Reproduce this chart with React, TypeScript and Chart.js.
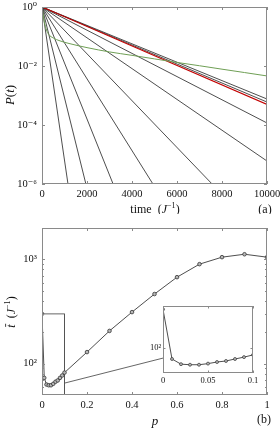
import React, { useEffect, useRef } from 'react';
import { Chart, registerables } from 'chart.js';
Chart.register(...registerables);

// ---------- Panel (a): survival probability P(t) ----------
const timeTicks = [0, 2000, 4000, 6000, 8000, 10000];
const probTicks = [1e-6, 1e-4, 1e-2, 1];
// black lines that reach P = 1e-6 inside the window (time at which they reach it)
const bottomEndTimes = [1155, 1950, 3160, 4930, 7560];
// black lines that leave through t = 10000 (P value there)
const rightEndProbs = [6.0e-6, 1.17e-4, 6.0e-4, 7.6e-4];
const redEndProb = 5.0e-4;
const greenTimes = [0, 50, 100, 200, 300, 500, 800, 1200, 2000, 3000, 4000, 5000, 6000, 7000, 8000, 9000, 10000];
const greenProbs = [1, 0.56, 0.32, 0.166, 0.117, 0.089, 0.071, 0.058, 0.042, 0.03, 0.023, 0.0174, 0.0132, 0.0102, 0.0078, 0.006, 0.0046];

// ---------- Panel (b): mean time vs p ----------
const pValues = [0, 0.01, 0.02, 0.03, 0.04, 0.05, 0.06, 0.07, 0.08, 0.09, 0.1, 0.2, 0.3, 0.4, 0.5, 0.6, 0.7, 0.8, 0.9, 1.0];
const meanTimes = [300, 73, 63, 62, 62, 64, 67, 69, 73, 77, 82, 129, 206, 312, 465, 675, 900, 1050, 1120, 1050];
const pTicks = [0, 0.2, 0.4, 0.6, 0.8, 1];
const meanTimeTicks = [100, 1000];
const meanTimeMinorTicks = [60, 70, 80, 90, 200, 300, 400, 500, 600, 700, 800, 900];
const zoomBoxP = [0, 0, 0.1, 0.1];
const zoomBoxT = [50, 300, 300, 50];
const connectorP = [0.1, 0.538];
const connectorT = [65, 113];
const insetPTicks = [0, 0.05, 0.1];
const insetTimeTicks = [100];

const SERIF = '"Liberation Serif", "DejaVu Serif", serif';
const AXIS = '#8a8a8a';
const LINE = '#3a3a3a';

const SUP: Record<string, string> = { '-': '⁻', '0': '⁰', '1': '¹', '2': '²', '3': '³', '4': '⁴', '5': '⁵', '6': '⁶', '7': '⁷', '8': '⁸', '9': '⁹' };
const pow10Label = (v: number) => '10' + String(Math.round(Math.log10(v))).split('').map(c => SUP[c]).join('');

type Seg = { t: string; it?: boolean; sup?: boolean; bar?: boolean };
type TextItem = { segs: Seg[]; x: number; y: number; size: number; rot?: boolean };

function drawRich(ctx: CanvasRenderingContext2D, item: TextItem) {
  const { segs, x: cx, y: cy, size, rot } = item;
  const fontOf = (s: Seg) => `${s.it ? 'italic ' : ''}${s.sup ? size * 0.68 : size}px ${SERIF}`;
  ctx.save();
  ctx.fillStyle = '#111';
  ctx.strokeStyle = '#111';
  let total = 0;
  const widths = segs.map(s => { ctx.font = fontOf(s); const w = ctx.measureText(s.t).width; total += w; return w; });
  ctx.translate(cx, cy);
  if (rot) ctx.rotate(-Math.PI / 2);
  ctx.textAlign = 'left';
  ctx.textBaseline = 'alphabetic';
  const base = size * 0.35;
  let x = -total / 2;
  segs.forEach((s, i) => {
    ctx.font = fontOf(s);
    ctx.fillText(s.t, x, s.sup ? base - size * 0.42 : base);
    if (s.bar) {
      ctx.beginPath();
      ctx.lineWidth = 0.8;
      ctx.moveTo(x + 0.8, base - size * 0.8);
      ctx.lineTo(x + widths[i] + 0.6, base - size * 0.8);
      ctx.stroke();
    }
    x += widths[i];
  });
  ctx.restore();
}

const framePlugin = {
  id: 'frameTicks',
  beforeDatasetsDraw(chart: any, _a: any, opts: any) {
    if (!opts.fill) return;
    const { ctx, chartArea: a } = chart;
    ctx.save();
    ctx.fillStyle = opts.fill;
    ctx.fillRect(a.left, a.top, a.right - a.left, a.bottom - a.top);
    ctx.restore();
  },
  afterDraw(chart: any, _a: any, opts: any) {
    const { ctx, chartArea: a, scales } = chart;
    const xs = scales.x, ys = scales.y;
    ctx.save();
    ctx.strokeStyle = AXIS;
    ctx.lineWidth = 1;
    ctx.strokeRect(Math.round(a.left) + 0.5, Math.round(a.top) + 0.5, Math.round(a.right - a.left) - 1, Math.round(a.bottom - a.top) - 1);
    const L = opts.len ?? 3;
    const ml = opts.minorLen ?? 2;
    ctx.beginPath();
    (opts.xMajor || []).forEach((v: number) => {
      const px = Math.round(xs.getPixelForValue(v)) + 0.5;
      ctx.moveTo(px, a.bottom); ctx.lineTo(px, a.bottom - L);
      ctx.moveTo(px, a.top); ctx.lineTo(px, a.top + L);
    });
    (opts.yMajor || []).forEach((v: number) => {
      const py = Math.round(ys.getPixelForValue(v)) + 0.5;
      ctx.moveTo(a.left, py); ctx.lineTo(a.left + L, py);
      ctx.moveTo(a.right, py); ctx.lineTo(a.right - L, py);
    });
    (opts.yMinor || []).forEach((v: number) => {
      const py = Math.round(ys.getPixelForValue(v)) + 0.5;
      ctx.moveTo(a.left, py); ctx.lineTo(a.left + ml, py);
      ctx.moveTo(a.right, py); ctx.lineTo(a.right - ml, py);
    });
    ctx.stroke();
    ctx.restore();
    (opts.texts || []).forEach((t: TextItem) => drawRich(ctx, t));
  },
};

function axisX(min: number, max: number, ticks: number[], h: number, size: number, pad: number, fmt?: (v: number) => string) {
  return {
    type: 'linear', min, max,
    afterBuildTicks: (s: any) => { s.ticks = ticks.map(v => ({ value: v })); },
    ticks: { font: { family: SERIF, size }, color: '#111', padding: pad, maxRotation: 0, autoSkip: false, callback: (v: any) => (fmt ? fmt(Number(v)) : String(v)) },
    grid: { display: false, drawTicks: false },
    border: { display: false },
    afterFit: (s: any) => { s.height = h; s.paddingLeft = 0; s.paddingRight = 0; },
  };
}
function axisYLog(min: number, max: number, ticks: number[], w: number, size: number, pad: number) {
  return {
    type: 'logarithmic', min, max,
    afterBuildTicks: (s: any) => { s.ticks = ticks.map(v => ({ value: v })); },
    ticks: { font: { family: SERIF, size }, color: '#111', padding: pad, autoSkip: false, callback: (v: any) => pow10Label(Number(v)) },
    grid: { display: false, drawTicks: false },
    border: { display: false },
    afterFit: (s: any) => { s.width = w; s.paddingTop = 0; s.paddingBottom = 0; },
  };
}

const lineDs = (data: { x: number; y: number }[], color: string, width = 1, extra: any = {}) => ({
  data, borderColor: color, borderWidth: width, pointRadius: 0, fill: false, tension: 0, ...extra,
});

export default function App() {
  const refA = useRef<HTMLCanvasElement>(null);
  const refB = useRef<HTMLCanvasElement>(null);
  const refI = useRef<HTMLCanvasElement>(null);

  useEffect(() => {
    const base: any = { animation: false, responsive: false, maintainAspectRatio: false, events: [] };

    const dsA: any[] = [];
    dsA.push(lineDs(greenTimes.map((t, i) => ({ x: t, y: greenProbs[i] })), '#6f9f55', 1, { cubicInterpolationMode: 'monotone' }));
    dsA.push(lineDs([{ x: 0, y: 1 }, { x: 10000, y: redEndProb }], '#c40000', 1.1));
    rightEndProbs.forEach(p => dsA.push(lineDs([{ x: 0, y: 1 }, { x: 10000, y: p }], LINE, 0.9)));
    bottomEndTimes.forEach(t => dsA.push(lineDs([{ x: 0, y: 1 }, { x: t, y: 1e-6 }], LINE, 0.9)));

    const chartA = new Chart(refA.current!, {
      type: 'line',
      data: { datasets: dsA },
      options: {
        ...base,
        layout: { padding: { top: 7, right: 13, left: 0, bottom: 0 } },
        plugins: {
          legend: { display: false }, tooltip: { enabled: false },
          frameTicks: {
            xMajor: timeTicks, yMajor: probTicks,
            texts: [
              { segs: [{ t: 'P', it: true }, { t: '(' }, { t: 't', it: true }, { t: ')' }], x: 9, y: 95, size: 13, rot: true },
              { segs: [{ t: 'time  (' }, { t: 'J', it: true }, { t: '−1', sup: true }, { t: ')' }], x: 155, y: 209, size: 12 },
              { segs: [{ t: '(a)' }], x: 265, y: 209, size: 12 },
            ],
          },
        } as any,
        scales: {
          x: axisX(0, 10000, timeTicks, 30, 10.5, 4),
          y: axisYLog(1e-6, 1, probTicks, 42, 10.5, 5),
        } as any,
      },
      plugins: [framePlugin as any],
    });

    const seriesB = pValues.map((p, i) => ({ x: p, y: meanTimes[i] }));
    const pointStyle = { pointRadius: 1.8, pointBorderWidth: 0.8, pointBorderColor: '#333', pointBackgroundColor: '#b8b8b8' };
    const chartB = new Chart(refB.current!, {
      type: 'line',
      data: {
        datasets: [
          lineDs(seriesB, LINE, 0.9, pointStyle),
          lineDs(zoomBoxP.map((p, i) => ({ x: p, y: zoomBoxT[i] })), '#555', 0.9),
          lineDs(connectorP.map((p, i) => ({ x: p, y: connectorT[i] })), '#555', 0.9),
        ],
      },
      options: {
        ...base,
        layout: { padding: { top: 14, right: 13, left: 0, bottom: 0 } },
        plugins: {
          legend: { display: false }, tooltip: { enabled: false },
          frameTicks: {
            xMajor: pTicks, yMajor: meanTimeTicks, yMinor: meanTimeMinorTicks,
            texts: [
              { segs: [{ t: 't', it: true, bar: true }, { t: '  (' }, { t: 'J', it: true }, { t: '−1', sup: true }, { t: ')' }], x: 11, y: 98, size: 12, rot: true },
              { segs: [{ t: 'p', it: true }], x: 155, y: 206, size: 13 },
              { segs: [{ t: '(b)' }], x: 264, y: 205, size: 12 },
            ],
          },
        } as any,
        scales: {
          x: axisX(0, 1, pTicks, 33, 10.5, 4),
          y: axisYLog(50, 2000, meanTimeTicks, 42, 10.5, 5),
        } as any,
      },
      plugins: [framePlugin as any],
    });

    const insetData = pValues.map((p, i) => ({ x: p, y: meanTimes[i] })).filter(d => d.x <= 0.1 + 1e-9);
    const chartI = new Chart(refI.current!, {
      type: 'line',
      data: {
        datasets: [lineDs(insetData, LINE, 0.9, { pointRadius: 1.5, pointBorderWidth: 0.7, pointBorderColor: '#333', pointBackgroundColor: '#b8b8b8' })],
      },
      options: {
        ...base,
        layout: { padding: { top: 8, right: 11, left: 0, bottom: 0 } },
        plugins: {
          legend: { display: false }, tooltip: { enabled: false },
          frameTicks: { xMajor: insetPTicks, yMajor: insetTimeTicks, fill: '#ffffff', len: 2.5 },
        } as any,
        scales: {
          x: axisX(0, 0.1, insetPTicks, 17, 8.5, 3),
          y: axisYLog(49, 330, insetTimeTicks, 23, 8.5, 2),
        } as any,
      },
      plugins: [framePlugin as any],
    });

    return () => { chartA.destroy(); chartB.destroy(); chartI.destroy(); };
  }, []);

  return (
    <div style={{ position: 'fixed', left: 0, top: 0, width: 280, height: 428, background: '#fff' }}>
      <canvas ref={refA} width={280} height={214} style={{ position: 'absolute', left: 0, top: 0, width: 280, height: 214 }} />
      <canvas ref={refB} width={280} height={214} style={{ position: 'absolute', left: 0, top: 214, width: 280, height: 214 }} />
      <canvas ref={refI} width={124} height={92} style={{ position: 'absolute', left: 140, top: 298, width: 124, height: 92 }} />
    </div>
  );
}
